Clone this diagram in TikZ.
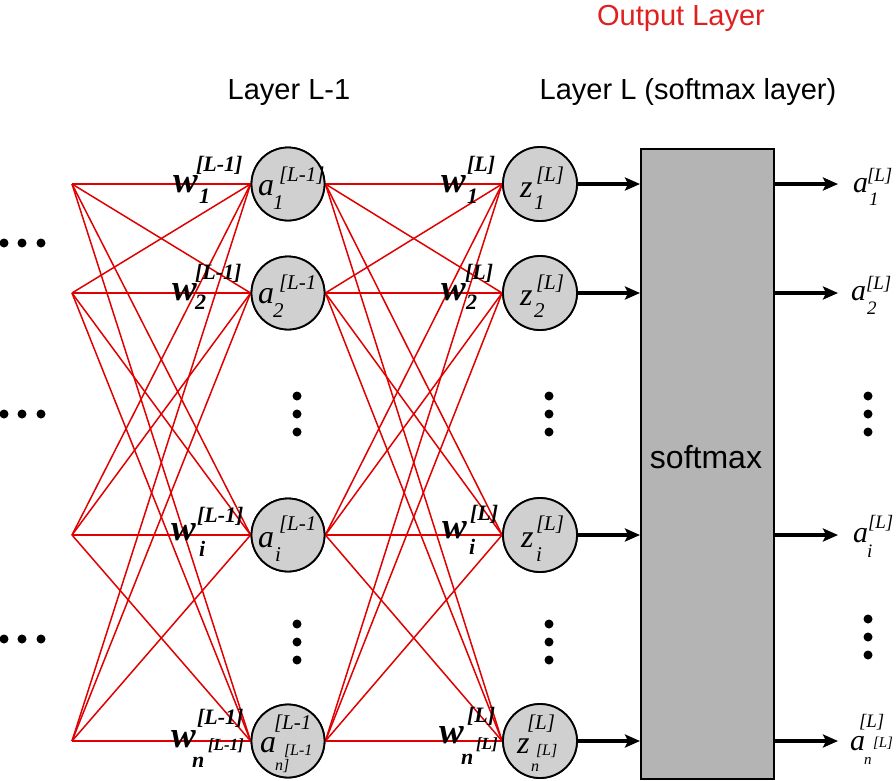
\documentclass[tikz,border=0pt]{standalone}
\usepackage{fontspec}
\setmainfont{Liberation Serif}
\newfontfamily\arialf{Liberation Sans}
\usetikzlibrary{arrows.meta}
\definecolor{wred}{HTML}{E00000}
\definecolor{tred}{HTML}{E02020}
\definecolor{nodegray}{HTML}{D0D0D0}
\definecolor{boxgray}{HTML}{B4B4B4}
\newcommand\pc[5]{\node[txt,#4] (#1) at (#2,#3) {#5};}
\begin{document}
\begin{tikzpicture}[x=1pt,y=-1pt,
  txt/.style={anchor=base west, inner sep=0pt, outer sep=0pt},
  itA/.style={font=\fontsize{32}{34}\selectfont\itshape},
  itB/.style={font=\fontsize{21}{23}\selectfont\itshape},
  itC/.style={font=\fontsize{16}{17}\selectfont\itshape},
  itoA/.style={font=\fontsize{30}{32}\selectfont\itshape},
  itoB/.style={font=\fontsize{19}{21}\selectfont\itshape},
  itoC/.style={font=\fontsize{15}{16}\selectfont\itshape},
  biA/.style={font=\fontsize{37}{39}\selectfont\bfseries\itshape},
  biB/.style={font=\fontsize{22}{24}\selectfont\bfseries\itshape},
  biC/.style={font=\fontsize{17}{18}\selectfont\bfseries\itshape},
  title/.style={anchor=base, inner sep=0pt, font=\arialf\fontsize{29}{31}\selectfont},
  neuron/.style={circle, draw=black, line width=1.8pt, fill=nodegray, minimum size=73pt, inner sep=0pt},
  wire/.style={draw=wred, line width=1.5pt},
  arr/.style={draw=black, line width=3.5pt, -{Stealth[length=15pt,width=13pt,inset=3pt]}},
  dot/.style={fill=black}]
\useasboundingbox (0,0) rectangle (896,780);

% input points and free ends
\foreach \n/\y in {1/184, 2/293, i/535, n/741} {
  \coordinate (in\n) at (72,\y);
  \coordinate (o\n) at (838,\y);
}
% neurons (positions for anchors)
\foreach \n/\y in {1/184, 2/293, i/535, n/741} {
  \node[neuron] (a\n) at (288,\y) {};
  \node[neuron, minimum size=74pt] (z\n) at (540,\y) {};
}
% red connections
\foreach \s in {1,2,i,n} {
  \foreach \t in {1,2,i,n} {
    \draw[wire] (in\s) -- (a\t.west);
    \draw[wire] (a\s.east) -- (z\t.west);
  }
}
% neurons drawn again on top of the connections
\foreach \n/\y in {1/184, 2/293, i/535, n/741} {
  \node[neuron] (A\n) at (288,\y) {};
  \node[neuron, minimum size=74pt] (Z\n) at (540,\y) {};
}

% softmax box
\node[draw=black, line width=1.5pt, fill=boxgray, minimum width=133pt, minimum height=630pt, anchor=north west, inner sep=0pt] (soft) at (640,148) {};
\node[inner sep=0pt, font=\arialf\fontsize{32}{34}\selectfont] (smx) at (706,457) {softmax};

% arrows
\foreach \n in {1,2,i,n} {
  \draw[arr] (Z\n.east) -- (Z\n.east -| soft.west);
  \draw[arr] (soft.east |- o\n) -- (o\n);
}

% titles
\node[title, text=tred] (tout) at (681,25) {Output Layer};
\node[title] (tl1) at (289,99) {Layer L-1};
\node[title] (tl) at (688,99) {Layer L (softmax layer)};

% dots
\foreach \y in {243,414,639} {
  \foreach \x in {4,22,41} { \fill[dot] (\x,\y) circle (4.5); }
}
\foreach \x in {297,549} {
  \foreach \y in {396,414,432,624,642,660} { \fill[dot] (\x,\y) circle (4.5); }
}
\foreach \y in {396,414,432,619,637,655} { \fill[dot] (868,\y) circle (4.5); }

% a labels
\pc{la1}{258}{195}{itA}{a}\pc{la1s}{279}{181}{itB}{[L-1]}\pc{la1b}{273}{209}{itB}{1}
\pc{la2}{258}{303}{itA}{a}\pc{la2s}{279}{289}{itB}{[L-1}\pc{la2b}{273}{317}{itB}{2}
\pc{lai}{258}{547}{itA}{a}\pc{lais}{279}{530}{itB}{[L-1}\pc{laib}{275}{561}{itB}{i}
\pc{lans}{274}{729}{itB}{[L-1}\pc{lan}{260}{752}{itA}{a}\pc{lanx}{284}{755}{itC}{[L-1}\pc{lanb}{275}{770}{itC}{n]}

% z labels
\pc{lz1}{520}{197}{itA}{z}\pc{lz1s}{536}{181}{itB}{[L]}\pc{lz1b}{534}{209}{itB}{1}
\pc{lz2}{520}{305}{itA}{z}\pc{lz2s}{536}{289}{itB}{[L]}\pc{lz2b}{534}{317}{itB}{2}
\pc{lzi}{521}{547}{itA}{z}\pc{lzis}{536}{530}{itB}{[L]}\pc{lzib}{536}{561}{itB}{i}
\pc{lzns}{527}{729}{itB}{[L]}\pc{lzn}{517}{753}{itA}{z}\pc{lznx}{536}{755}{itC}{[L]}\pc{lznb}{531}{771}{itC}{n}

% output labels
\pc{lo1}{853}{192}{itoA}{a}\pc{lo1s}{867}{181}{itoB}{[L]}\pc{lo1b}{869}{205}{itoB}{1}
\pc{lo2}{851}{300}{itoA}{a}\pc{lo2s}{866}{289}{itoB}{[L]}\pc{lo2b}{867}{314}{itoB}{2}
\pc{loi}{853}{542}{itoA}{a}\pc{lois}{868}{528}{itoB}{[L]}\pc{loib}{867}{557}{itoB}{i}
\pc{lons}{859}{727}{itoB}{[L]}\pc{lon}{850}{750}{itoA}{a}\pc{lonx}{873}{747}{itoC}{[L]}\pc{lonb}{864}{764}{itoC}{n}

% weight labels L-1
\pc{w1}{173}{192}{biA}{w}\pc{w1s}{196}{171}{biB}{[L-1]}\pc{w1b}{199}{203}{biB}{1}
\pc{w2}{172}{300}{biA}{w}\pc{w2s}{195}{279}{biB}{[L-1]}\pc{w2b}{195}{309}{biB}{2}
\pc{wi}{171}{540}{biA}{w}\pc{wis}{197}{522}{biB}{[L-1]}\pc{wib}{199}{556}{biB}{i}
\pc{wn}{171}{747}{biA}{w}\pc{wns}{197}{724}{biB}{[L-1]}\pc{wnb}{192}{767}{biB}{n}\pc{wnx}{208}{750}{biC}{[L-1]}

% weight labels L
\pc{v1}{441}{192}{biA}{w}\pc{v1s}{467}{171}{biB}{[L]}\pc{v1b}{467}{203}{biB}{1}
\pc{v2}{441}{300}{biA}{w}\pc{v2s}{465}{279}{biB}{[L]}\pc{v2b}{466}{309}{biB}{2}
\pc{vi}{442}{538}{biA}{w}\pc{vis}{470}{520}{biB}{[L]}\pc{vib}{469}{554}{biB}{i}
\pc{vn}{439}{743}{biA}{w}\pc{vns}{467}{722}{biB}{[L]}\pc{vnb}{461}{764}{biB}{n}\pc{vnx}{476}{749}{biC}{[L]}
\end{tikzpicture}
\end{document}
